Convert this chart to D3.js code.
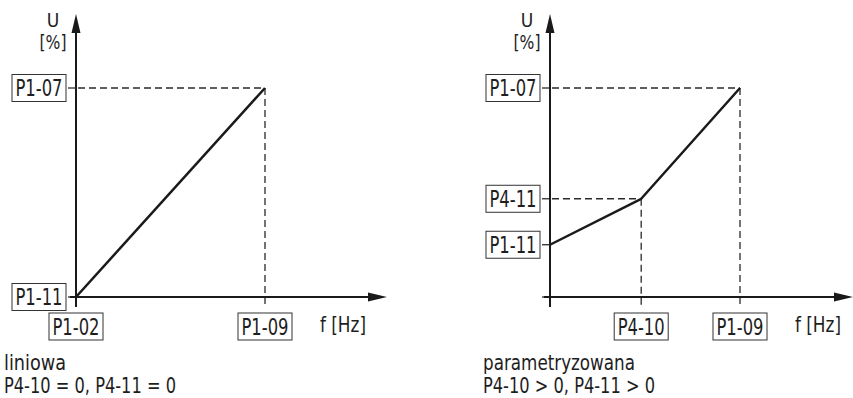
<!DOCTYPE html>
<html>
<head>
<meta charset="utf-8">
<script src="https://cdn.jsdelivr.net/npm/d3@7"></script>
<style>
  html, body { margin: 0; padding: 0; background: #fff; }
  svg text { font-family: "Liberation Sans Narrow", "DejaVu Sans Condensed", "Roboto", sans-serif; fill: #1e1e1e; }
</style>
</head>
<body>
<div id="chart"></div>
<script>
// --- data (values relative to 100 = P1-09 / P1-07) ---
var linF = [0, 100];            // P1-02 -> P1-09
var linU = [0, 100];            // P1-11 -> P1-07
var parF = [0, 48, 100];        // 0, P4-10, P1-09
var parU = [25, 47, 100];       // P1-11, P4-11, P1-07

var linYTicks = [0, 100], linYLabels = ["P1-11", "P1-07"];
var linXTicks = [0, 100], linXLabels = ["P1-02", "P1-09"];
var parYTicks = [0, 25, 47, 100], parYLabels = [null, "P1-11", "P4-11", "P1-07"];
var parXTicks = [0, 48, 100], parXLabels = [null, "P4-10", "P1-09"];

var linCaption = ["liniowa", "P4-10 = 0, P4-11 = 0"];
var parCaption = ["parametryzowana", "P4-10 > 0, P4-11 > 0"];

var W = 853, H = 398;
var svg = d3.select("#chart").append("svg")
    .attr("width", W).attr("height", H);

var panels = [
  { f: linF, u: linU, yt: linYTicks, yl: linYLabels, xt: linXTicks, xl: linXLabels,
    cap: linCaption, ox: 76, oy: 297, x100: 265, y100: 88, xEnd: 387, capX: 4 },
  { f: parF, u: parU, yt: parYTicks, yl: parYLabels, xt: parXTicks, xl: parXLabels,
    cap: parCaption, ox: 550, oy: 297, x100: 740, y100: 88, xEnd: 853, capX: 483 }
];

var labelW = 54, labelH = 27;

panels.forEach(function(p) {
  var x = d3.scaleLinear().domain([0, 100]).range([p.ox, p.x100]);
  var y = d3.scaleLinear().domain([0, 100]).range([p.oy, p.y100]);
  var g = svg.append("g");
  var yTop = 14;

  // dashed guides to each break point
  var dash = g.append("g").attr("stroke", "#2a2a2a").attr("stroke-width", 1.3)
      .attr("stroke-dasharray", "7,4").attr("fill", "none");
  p.f.forEach(function(fv, i) {
    var uv = p.u[i];
    if (fv > 0) {
      dash.append("line").attr("x1", x(fv)).attr("x2", x(fv))
        .attr("y1", y(uv)).attr("y2", p.oy + 11);
    }
    if (fv > 0 && uv > 0) {
      dash.append("line").attr("x1", x(0) + 2).attr("x2", x(fv))
        .attr("y1", y(uv)).attr("y2", y(uv));
    }
  });

  // axes
  g.append("line").attr("x1", p.ox).attr("x2", p.ox).attr("y1", p.oy + 10).attr("y2", yTop + 12)
    .attr("stroke", "#1a1a1a").attr("stroke-width", 2);
  g.append("line").attr("x1", p.ox - 6).attr("x2", p.xEnd - 12).attr("y1", p.oy).attr("y2", p.oy)
    .attr("stroke", "#1a1a1a").attr("stroke-width", 2);
  g.append("path").attr("d", d3.line()([[p.ox, yTop], [p.ox - 4.5, yTop + 19], [p.ox + 4.5, yTop + 19]]) + "Z")
    .attr("fill", "#1a1a1a");
  g.append("path").attr("d", d3.line()([[p.xEnd, p.oy], [p.xEnd - 19, p.oy - 4.5], [p.xEnd - 19, p.oy + 4.5]]) + "Z")
    .attr("fill", "#1a1a1a");

  // y ticks
  p.yt.forEach(function(v, i) {
    g.append("line").attr("x1", p.ox - 8).attr("x2", p.ox).attr("y1", y(v)).attr("y2", y(v))
      .attr("stroke", "#1a1a1a").attr("stroke-width", 1.2);
    if (p.yl[i]) {
      var bx = p.ox - 10 - labelW, by = y(v) - labelH / 2;
      g.append("rect").attr("x", bx).attr("y", by).attr("width", labelW).attr("height", labelH)
        .attr("fill", "#fff").attr("stroke", "#333").attr("stroke-width", 1);
      g.append("text").attr("x", bx + labelW / 2).attr("y", by + labelH / 2 + 8)
        .attr("text-anchor", "middle").attr("font-size", 23)
        .attr("textLength", 47).attr("lengthAdjust", "spacingAndGlyphs")
        .text(p.yl[i]);
    }
  });

  // x ticks
  p.xt.forEach(function(v, i) {
    if (v === 0) {
      g.append("line").attr("x1", x(v)).attr("x2", x(v)).attr("y1", p.oy).attr("y2", p.oy + 10)
        .attr("stroke", "#1a1a1a").attr("stroke-width", 1.2);
    }
    if (p.xl[i]) {
      var bx = x(v) - labelW / 2, by = 313;
      g.append("rect").attr("x", bx).attr("y", by).attr("width", labelW).attr("height", labelH)
        .attr("fill", "#fff").attr("stroke", "#333").attr("stroke-width", 1);
      g.append("text").attr("x", x(v)).attr("y", by + labelH / 2 + 8)
        .attr("text-anchor", "middle").attr("font-size", 23)
        .attr("textLength", 47).attr("lengthAdjust", "spacingAndGlyphs")
        .text(p.xl[i]);
    }
  });

  // characteristic line
  var pts = p.f.map(function(fv, i) { return [x(fv), y(p.u[i])]; });
  g.append("path").attr("d", d3.line()(pts)).attr("fill", "none")
    .attr("stroke", "#1a1a1a").attr("stroke-width", 2.5).attr("stroke-linejoin", "round");

  // axis titles
  g.append("text").attr("x", p.ox - 23).attr("y", 27).attr("text-anchor", "middle")
    .attr("font-size", 19).text("U");
  g.append("text").attr("x", p.ox - 23).attr("y", 49).attr("text-anchor", "middle")
    .attr("font-size", 19).attr("textLength", 27).attr("lengthAdjust", "spacingAndGlyphs").text("[%]");
  g.append("text").attr("x", x(100) + 55).attr("y", 332)
    .attr("font-size", 22).attr("textLength", 46).attr("lengthAdjust", "spacingAndGlyphs").text("f [Hz]");

  // captions
  g.append("text").attr("x", p.capX).attr("y", 370).attr("font-size", 22)
    .attr("textLength", p.cap[0].length > 10 ? 152 : 62).attr("lengthAdjust", "spacingAndGlyphs")
    .text(p.cap[0]);
  g.append("text").attr("x", p.capX).attr("y", 393).attr("font-size", 22)
    .attr("textLength", 172).attr("lengthAdjust", "spacingAndGlyphs")
    .text(p.cap[1]);
});
</script>
</body>
</html>
